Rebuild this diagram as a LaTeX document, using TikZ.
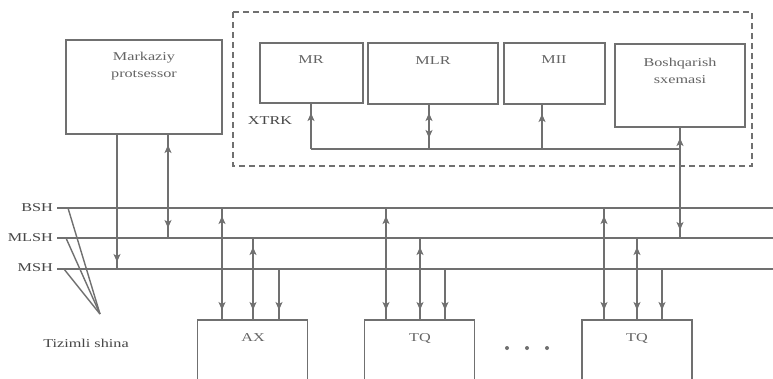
\documentclass[tikz,border=0pt]{standalone}
\usepackage{fontspec}
\setmainfont{Liberation Serif}[FakeStretch=1.35]
\usetikzlibrary{arrows.meta,decorations.markings}
\definecolor{ln}{RGB}{112,112,112}
\definecolor{tx}{RGB}{70,70,70}
\definecolor{tl}{RGB}{100,100,100}
\begin{document}
\begin{tikzpicture}[x=1pt,y=-1pt,
  box/.style={draw=ln,line width=1.9pt,inner sep=0pt,outer sep=0pt,fill=white},
  wire/.style={draw=ln,line width=1.8pt},
  thinwire/.style={draw=ln,line width=1.4pt},
  dashbox/.style={draw=ln,line width=1.2pt,dash pattern=on 6pt off 4pt},
  lbl/.style={text=tl,font=\fontsize{12}{17}\selectfont,align=center,inner sep=0pt},
  blbl/.style={text=tx,font=\fontsize{12}{14}\selectfont,inner sep=0pt},
  ae/.style={postaction={decorate,decoration={markings,mark=at position -#1 with {\arrow[ln,line width=1pt]{Stealth[length=8pt,width=7pt,inset=2pt]}}}}},
  as/.style={postaction={decorate,decoration={markings,mark=at position #1 with {\arrowreversed[ln,line width=1pt]{Stealth[length=8pt,width=7pt,inset=2pt]}}}}},
  dotmark/.style={circle,fill=ln,inner sep=0pt,minimum size=4pt}
]
\useasboundingbox (0,0) rectangle (773,378);
\clip (0,0) rectangle (773,378);
\fill[white] (0,0) rectangle (773,378);

% dashed XTRK frame
\draw[dashbox] (233,12) rectangle (752,166);

% top boxes
\node[box,minimum width=156pt,minimum height=94pt] (cpu) at (144,87) {};
\node[box,minimum width=103pt,minimum height=60pt] (mr) at (311.5,73) {};
\node[box,minimum width=130pt,minimum height=61pt] (mlr) at (433,73.5) {};
\node[box,minimum width=101pt,minimum height=61pt] (mii) at (554.5,73.5) {};
\node[box,minimum width=130pt,minimum height=83pt] (bosh) at (680,85.5) {};

\node[lbl] (tcpu) at (144,66) {Markaziy\\protsessor};
\node[lbl] (tmr) at (311,60) {MR};
\node[lbl] (tmlr) at (433,61) {MLR};
\node[lbl] (tmii) at (554,60) {MII};
\node[lbl] (tbosh) at (680,71) {Boshqarish\\sxemasi};
\node[blbl] (txtrk) at (270,121) {XTRK};

% bus lines
\coordinate (bshL) at (57,208); \coordinate (bshR) at (773,208);
\coordinate (mlshL) at (57,238); \coordinate (mlshR) at (773,238);
\coordinate (mshL) at (57,269); \coordinate (mshR) at (773,269);
\draw[wire] (bshL) -- (bshR);
\draw[wire] (mlshL) -- (mlshR);
\draw[wire] (mshL) -- (mshR);

\node[blbl,anchor=east] (lbsh) at (53,208) {BSH};
\node[blbl,anchor=east] (lmlsh) at (53,238) {MLSH};
\node[blbl,anchor=east] (lmsh) at (53,268) {MSH};

% system bus label
\coordinate (tz) at (100,314);
\coordinate (t1) at (68,208);
\coordinate (t2) at (66,238);
\coordinate (t3) at (64,269);
\draw[thinwire] (t1) -- (tz);
\draw[thinwire] (t2) -- (tz);
\draw[thinwire] (t3) -- (tz);
\node[blbl] (ttz) at (86,343) {Tizimli shina};

% CPU connections
\coordinate (c1) at (117,134);
\coordinate (c2) at (168,134);
\draw[wire,ae=7pt] (c1) -- (c1 |- mshL);
\draw[wire,as=11pt,ae=10pt] (c2) -- (c2 |- mlshL);

% internal XTRK bus
\coordinate (ib) at (311,149);
\coordinate (pmr) at (311,103);
\coordinate (pmlr) at (429,104);
\coordinate (pmii) at (542,104);
\coordinate (pbosh) at (680,127);
\draw[thinwire] (ib) -- (ib -| pbosh);
\draw[thinwire,ae=10pt] (ib) -- (pmr);
\draw[thinwire,as=11pt,ae=9pt] (pmlr |- ib) -- (pmlr);
\draw[thinwire,ae=10pt] (pmii |- ib) -- (pmii);
\draw[thinwire,as=11pt,ae=8pt] (pbosh) -- (pbosh |- mlshL);

% bottom boxes
\node[box,minimum width=110pt,minimum height=80pt,anchor=north] (ax) at (252.5,320) {};
\node[box,minimum width=110pt,minimum height=80pt,anchor=north] (tq1) at (419.5,320) {};
\node[box,minimum width=110pt,minimum height=80pt,anchor=north] (tq2) at (637,320) {};
\node[lbl] (tax) at (253,338) {AX};
\node[lbl] (ttq1) at (420,338) {TQ};
\node[lbl] (ttq2) at (637,338) {TQ};

% pins
\coordinate (a1) at (222,320); \coordinate (a2) at (253,320); \coordinate (a3) at (279,320);
\coordinate (b1) at (386,320); \coordinate (b2) at (420,320); \coordinate (b3) at (445,320);
\coordinate (e1) at (604,320); \coordinate (e2) at (637,320); \coordinate (e3) at (662,320);
\foreach \p in {a,b,e}{
  \draw[wire,as=8pt,ae=10pt] (\p1 |- bshL) -- (\p1);
  \draw[wire,as=9pt,ae=10pt] (\p2 |- mlshL) -- (\p2);
  \draw[wire,ae=10pt] (\p3 |- mshL) -- (\p3);
}

% dots
\node[dotmark] (d1) at (507,348) {};
\node[dotmark] (d2) at (527,348) {};
\node[dotmark] (d3) at (547,348) {};
\end{tikzpicture}
\end{document}
